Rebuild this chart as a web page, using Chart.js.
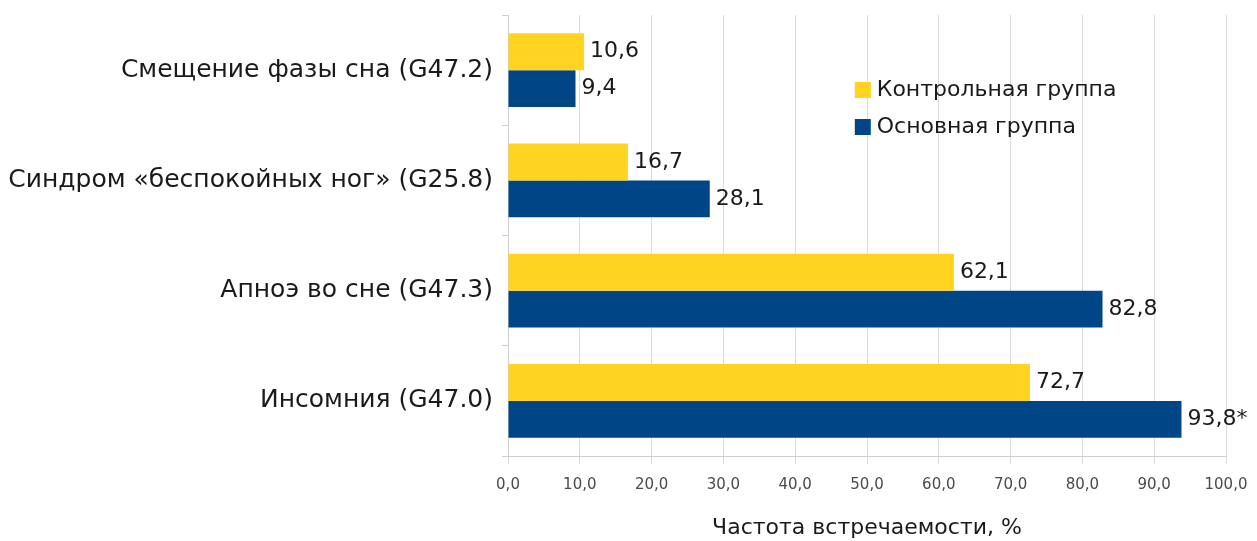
<!DOCTYPE html>
<html>
<head>
<meta charset="utf-8">
<script src="https://cdn.jsdelivr.net/npm/chart.js@4.4.0/dist/chart.umd.min.js"></script>
<style>
  html, body { margin: 0; padding: 0; background: #fff; }
  #wrap { width: 1257px; height: 541px; }
</style>
</head>
<body>
<div id="wrap"><canvas id="chart"></canvas></div>
<script>
// dati del grafico
const categories = [
    'Смещение фазы сна (G47.2)',
    'Синдром «беспокойных ног» (G25.8)',
    'Апноэ во сне (G47.3)',
    'Инсомния (G47.0)'
];
const seriesNames = ['Контрольная группа', 'Основная группа'];
const controlValues = [10.6, 16.7, 62.1, 72.7];
const mainValues = [9.4, 28.1, 82.8, 93.8];
const mainMarks = ['', '', '', '*'];
const xTicks = [0, 10, 20, 30, 40, 50, 60, 70, 80, 90, 100];
const axisTitle = 'Частота встречаемости, %';

const FONT = '"DejaVu Sans", sans-serif';
const fmt = v => v.toFixed(1).replace('.', ',');

// etichette dei valori a destra delle barre
const valueLabels = {
    id: 'valueLabels',
    afterDatasetsDraw(chart) {
        const ctx = chart.ctx;
        ctx.save();
        ctx.font = '22px ' + FONT;
        ctx.fillStyle = '#1a1a1a';
        ctx.textBaseline = 'middle';
        ctx.textAlign = 'left';
        chart.data.datasets.forEach((ds, di) => {
            chart.getDatasetMeta(di).data.forEach((bar, i) => {
                const mark = ds.marks ? ds.marks[i] : '';
                ctx.fillText(fmt(ds.data[i]) + mark, bar.x + 6, bar.y);
            });
        });
        ctx.restore();
    }
};

// legenda dentro l'area del grafico
const innerLegend = {
    id: 'innerLegend',
    afterDraw(chart) {
        const ctx = chart.ctx;
        const x = chart.scales.x.getPixelForValue(48.3);
        const y0 = 90;
        ctx.save();
        ctx.font = '22px ' + FONT;
        ctx.textBaseline = 'middle';
        chart.data.datasets.forEach((ds, i) => {
            const y = y0 + i * 37;
            ctx.fillStyle = ds.backgroundColor;
            ctx.fillRect(x, y - 8, 16, 16);
            ctx.fillStyle = '#1a1a1a';
            ctx.fillText(ds.label, x + 22, y);
        });
        ctx.restore();
    }
};

new Chart(document.getElementById('chart'), {
    type: 'bar',
    data: {
        labels: categories,
        datasets: [
            {
                label: seriesNames[0],
                data: controlValues,
                backgroundColor: '#ffd320',
                categoryPercentage: 0.67,
                barPercentage: 1.0
            },
            {
                label: seriesNames[1],
                data: mainValues,
                marks: mainMarks,
                backgroundColor: '#004586',
                categoryPercentage: 0.67,
                barPercentage: 1.0
            }
        ]
    },
    options: {
        indexAxis: 'y',
        responsive: true,
        maintainAspectRatio: false,
        animation: false,
        layout: { padding: { top: 15, right: 31, left: 0, bottom: 0 } },
        plugins: {
            legend: { display: false },
            tooltip: { enabled: false }
        },
        scales: {
            x: {
                min: 0,
                max: 100,
                afterBuildTicks: axis => { axis.ticks = xTicks.map(v => ({ value: v })); },
                afterFit: axis => {
                    axis.height = 85;
                    axis.paddingLeft = 0;
                    axis.paddingRight = 0;
                },
                grid: { color: '#dcdcdc', tickLength: 8 },
                border: { color: '#cfcfcf' },
                ticks: {
                    font: { family: FONT, size: 15 },
                    color: '#4a4a4a',
                    padding: 12,
                    callback: v => fmt(v)
                },
                title: {
                    display: true,
                    text: axisTitle,
                    font: { family: FONT, size: 22 },
                    color: '#1a1a1a',
                    padding: { top: 18, bottom: 0 }
                }
            },
            y: {
                afterFit: axis => {
                    axis.width = 508;
                    axis.paddingTop = 0;
                    axis.paddingBottom = 0;
                },
                grid: { drawOnChartArea: false, tickLength: 6, color: '#cfcfcf', offset: true },
                border: { color: '#cfcfcf' },
                ticks: {
                    font: { family: FONT, size: 25 },
                    color: '#1a1a1a',
                    padding: 9
                }
            }
        }
    },
    plugins: [valueLabels, innerLegend]
});
</script>
</body>
</html>
